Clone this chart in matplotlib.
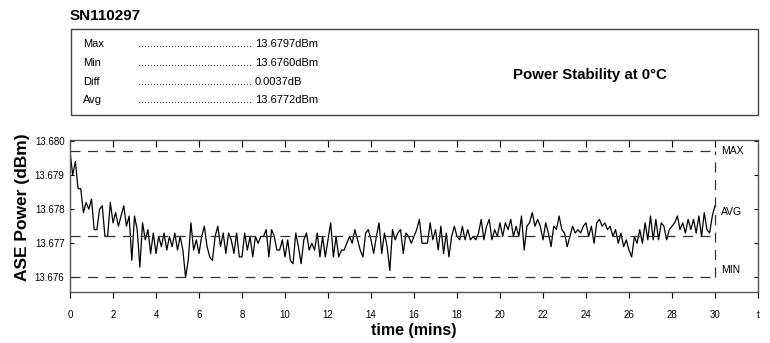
import numpy as np
import matplotlib.pyplot as plt
from matplotlib.patches import Rectangle

# serial number and summary figures from the header box
serial = "SN110297"
title = "Power Stability at 0°C"
stat_names = ["Max", "Min", "Diff", "Avg"]
stat_values = ["13.6797dBm", "13.6760dBm", "0.0037dB", "13.6772dBm"]

p_max = 13.6797
p_min = 13.6760
p_avg = 13.6772

# one reading every 7.5 s (8 per minute)
sample_step = 0.125
power = [
    13.6797, 13.6790, 13.6794, 13.6786, 13.6786, 13.6779, 13.6782, 13.6780,
    13.6783, 13.6774, 13.6774, 13.6780, 13.6781, 13.6772, 13.6772, 13.6782,
    13.6776, 13.6779, 13.6775, 13.6778, 13.6781, 13.6775, 13.6778, 13.6765,
    13.6778, 13.6774, 13.6763, 13.6776, 13.6771, 13.6774, 13.6767, 13.6773,
    13.6767, 13.6772, 13.6769, 13.6773, 13.6768, 13.6772, 13.6769, 13.6773,
    13.6768, 13.6772, 13.6768, 13.6760, 13.6765, 13.6776, 13.6768, 13.6771,
    13.6767, 13.6772, 13.6775, 13.6769, 13.6766, 13.6765, 13.6772, 13.6775,
    13.6769, 13.6773, 13.6767, 13.6773, 13.6771, 13.6767, 13.6773, 13.6766,
    13.6766, 13.6773, 13.6768, 13.6772, 13.6766, 13.6772, 13.6770, 13.6772,
    13.6772, 13.6774, 13.6766, 13.6774, 13.6772, 13.6768, 13.6768, 13.6771,
    13.6766, 13.6771, 13.6765, 13.6764, 13.6773, 13.6769, 13.6764, 13.6771,
    13.6773, 13.6768, 13.6770, 13.6768, 13.6773, 13.6766, 13.6772, 13.6766,
    13.6771, 13.6776, 13.6766, 13.6772, 13.6766, 13.6768, 13.6768, 13.6770,
    13.6772, 13.6770, 13.6774, 13.6771, 13.6768, 13.6766, 13.6773, 13.6774,
    13.6771, 13.6767, 13.6772, 13.6776, 13.6767, 13.6773, 13.6769, 13.6762,
    13.6774, 13.6771, 13.6773, 13.6774, 13.6767, 13.6773, 13.6772, 13.6770,
    13.6772, 13.6774, 13.6777, 13.6770, 13.6770, 13.6770, 13.6776, 13.6771,
    13.6774, 13.6768, 13.6775, 13.6767, 13.6773, 13.6766, 13.6772, 13.6775,
    13.6772, 13.6771, 13.6775, 13.6771, 13.6774, 13.6771, 13.6772, 13.6771,
    13.6773, 13.6777, 13.6771, 13.6775, 13.6777, 13.6771, 13.6774, 13.6772,
    13.6776, 13.6772, 13.6776, 13.6774, 13.6777, 13.6772, 13.6775, 13.6772,
    13.6778, 13.6768, 13.6775, 13.6776, 13.6779, 13.6775, 13.6777, 13.6775,
    13.6771, 13.6776, 13.6773, 13.6769, 13.6775, 13.6774, 13.6778, 13.6774,
    13.6773, 13.6769, 13.6772, 13.6775, 13.6773, 13.6774, 13.6773, 13.6775,
    13.6776, 13.6772, 13.6775, 13.6770, 13.6776, 13.6777, 13.6775, 13.6776,
    13.6774, 13.6775, 13.6772, 13.6774, 13.6770, 13.6773, 13.6769, 13.6771,
    13.6768, 13.6766, 13.6772, 13.6770, 13.6774, 13.6770, 13.6776, 13.6771,
    13.6778, 13.6771, 13.6777, 13.6771, 13.6776, 13.6775, 13.6771, 13.6774,
    13.6775, 13.6776, 13.6778, 13.6774, 13.6776, 13.6773, 13.6777, 13.6774,
    13.6777, 13.6773, 13.6778, 13.6772, 13.6779, 13.6774, 13.6773, 13.6778,
    13.6781,
]
t = np.arange(len(power)) * sample_step

x_ticks = list(range(0, 31, 2)) + [32]
x_labels = [str(v) for v in range(0, 31, 2)] + ["t"]
y_ticks = [13.676, 13.677, 13.678, 13.679, 13.680]

plt.rcParams['font.family'] = ['Liberation Sans', 'DejaVu Sans']

fig = plt.figure(figsize=(7.7, 3.43), dpi=100)

# header
fig.text(70 / 770, 1 - 16 / 343, serial, fontsize=11, fontweight='bold', va='center')
fig.patches.append(Rectangle((71 / 770, 1 - 115 / 343), 687 / 770, 86 / 343,
                             transform=fig.transFigure, fill=False,
                             edgecolor='#444444', linewidth=1))
rows_y = [44, 63, 82, 100]
for name, val, yy in zip(stat_names, stat_values, rows_y):
    fig.text(83 / 770, 1 - yy / 343, name, fontsize=8, va='center')
    fig.text(252 / 770, 1 - yy / 343, "." * 38, fontsize=8, va='center', ha='right')
    fig.text(255 / 770, 1 - yy / 343, val, fontsize=8, va='center')
fig.text(590 / 770, 1 - 75 / 343, title, fontsize=10.8, fontweight='bold',
         ha='center', va='center')

ax = fig.add_axes([70 / 770, 1 - 292 / 343, 688 / 770, 152 / 343])
ax.plot(t, power, color='black', linewidth=0.9)

dash = dict(color='#333333', linewidth=0.9, dashes=(8, 6))
ax.plot([0, 30], [p_max, p_max], **dash)
ax.plot([0, 30], [p_min, p_min], **dash)
ax.plot([0, 30], [p_avg, p_avg], **dash)
ax.plot([30, 30], [p_min, p_max], **dash)

ax.text(30.3, 13.6797, "MAX", fontsize=7.5, va='center')
ax.text(30.3, 13.67793, "AVG", fontsize=7.5, va='center')
ax.text(30.3, 13.67621, "MIN", fontsize=7.5, va='center')

ax.set_xlim(0, 32)
ax.set_ylim(13.67557, 13.68003)
ax.set_xticks(x_ticks)
ax.set_xticklabels(x_labels, fontsize=7)
ax.set_yticks(y_ticks)
ax.set_yticklabels([f"{v:.3f}" for v in y_ticks], fontsize=7)
ax.tick_params(axis='x', direction='out', length=4, width=0.8, pad=9, top=False)
ax.tick_params(axis='y', direction='in', length=3, width=0.8, right=True, pad=4)

# top ticks point inward
top = ax.secondary_xaxis('top')
top.set_xticks(list(range(0, 31, 2)))
top.set_xticklabels([])
top.tick_params(direction='in', length=5, width=0.8)
top.spines['top'].set_visible(False)

for s in ax.spines.values():
    s.set_color('#555555')
    s.set_linewidth(1)

ax.set_xlabel("time (mins)", fontsize=11.5, fontweight='bold', labelpad=2)
ax.set_ylabel("ASE Power (dBm)", fontsize=12.5, fontweight='bold')
ax.yaxis.set_label_coords(-0.058, 0.56)

fig.savefig("out.png", dpi=100)
